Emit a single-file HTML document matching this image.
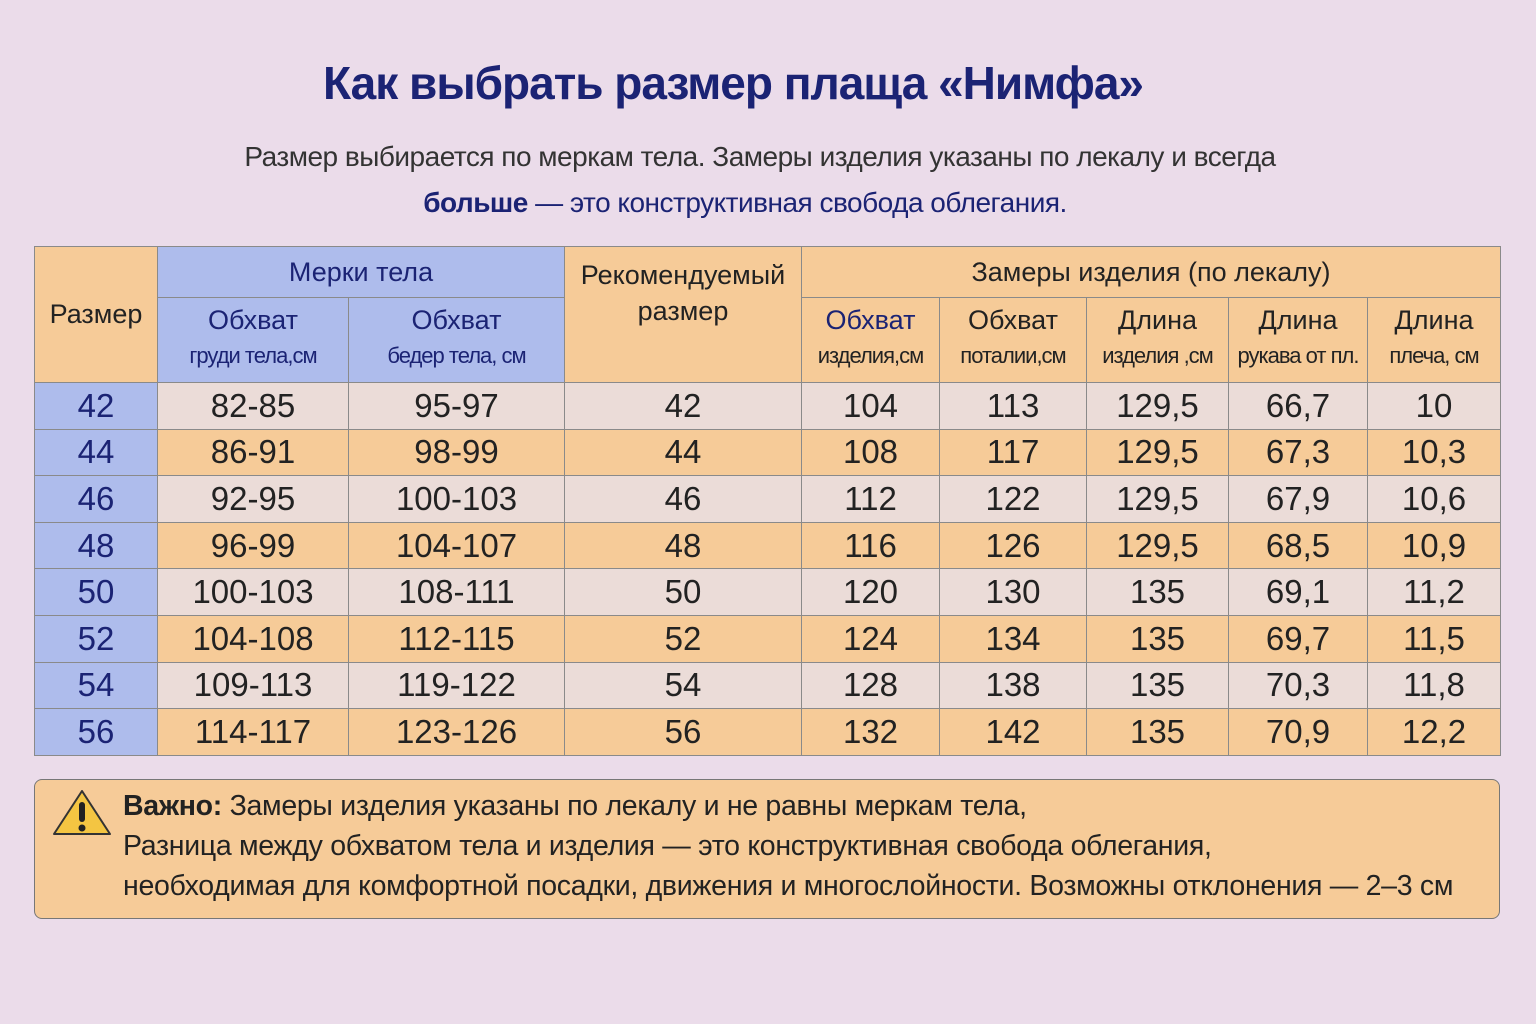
<!DOCTYPE html>
<html><head><meta charset="utf-8"><style>
body{margin:0;width:1536px;height:1024px;background:#ebdcea;font-family:"Liberation Sans","DejaVu Sans",sans-serif;position:relative;overflow:hidden}
.t{position:absolute;left:0;width:1536px;text-align:center}
h1{position:absolute;left:0;width:1466px;text-align:center;top:56px;margin:0;font-size:46px;color:#1b2374;letter-spacing:-1px;font-weight:bold}
.sub{font-size:28px;color:#333;letter-spacing:-0.5px}
table{position:absolute;left:34px;top:246px;border-collapse:collapse;table-layout:fixed;width:1466px}
td{border:1px solid #8a8a8a;text-align:center;padding:0;color:#222}
.o{background:#f6cb98}.l{background:#ebdcd8}.b{background:#aebcec;color:#1b2374}
.h{font-size:27px}.s{font-size:22px;letter-spacing:-1px;line-height:40px}
.d{height:46.6px}
.d td{font-size:33px}
.d td:first-child{color:#1b2374}
.note{position:absolute;left:34px;top:779px;width:1466px;height:140px;background:#f6cb98;border:1px solid #777;border-radius:8px;box-sizing:border-box}
.note p{margin:0;position:absolute;left:88px;font-size:28.5px;color:#222;letter-spacing:-0.3px;white-space:nowrap}
</style></head><body>
<h1>Как выбрать размер плаща «Нимфа»</h1>
<div class="t sub" style="top:141px;width:1520px">Размер выбирается по меркам тела. Замеры изделия указаны по лекалу и всегда</div>
<div class="t sub" style="top:187px;width:1490px;color:#1b2374"><b>больше</b> — это конструктивная свобода облегания.</div>
<table>
<colgroup><col style="width:123px"><col style="width:191px"><col style="width:216px"><col style="width:237px"><col style="width:138px"><col style="width:147px"><col style="width:142px"><col style="width:139px"><col style="width:133px"></colgroup>
<tr style="height:51px"><td class="o h" rowspan="2">Размер</td><td class="b h" colspan="2">Мерки тела</td><td class="o h" rowspan="2" style="vertical-align:top;padding-top:10px;line-height:36px">Рекомендуемый<br>размер</td><td class="o h" colspan="5">Замеры изделия (по лекалу)</td></tr>
<tr style="height:85px"><td class="b"><span class="h">Обхват</span><br><span class="s">груди тела,см</span></td><td class="b"><span class="h">Обхват</span><br><span class="s">бедер тела, см</span></td>
<td class="o"><span class="h" style="color:#1b2374">Обхват</span><br><span class="s">изделия,см</span></td><td class="o"><span class="h">Обхват</span><br><span class="s">поталии,см</span></td><td class="o"><span class="h">Длина</span><br><span class="s">изделия ,см</span></td><td class="o"><span class="h">Длина</span><br><span class="s">рукава от пл.</span></td><td class="o"><span class="h">Длина</span><br><span class="s">плеча, см</span></td></tr>
<tr class="d l"><td class="b">42</td><td>82-85</td><td>95-97</td><td>42</td><td>104</td><td>113</td><td>129,5</td><td>66,7</td><td>10</td></tr>
<tr class="d o"><td class="b">44</td><td>86-91</td><td>98-99</td><td>44</td><td>108</td><td>117</td><td>129,5</td><td>67,3</td><td>10,3</td></tr>
<tr class="d l"><td class="b">46</td><td>92-95</td><td>100-103</td><td>46</td><td>112</td><td>122</td><td>129,5</td><td>67,9</td><td>10,6</td></tr>
<tr class="d o"><td class="b">48</td><td>96-99</td><td>104-107</td><td>48</td><td>116</td><td>126</td><td>129,5</td><td>68,5</td><td>10,9</td></tr>
<tr class="d l"><td class="b">50</td><td>100-103</td><td>108-111</td><td>50</td><td>120</td><td>130</td><td>135</td><td>69,1</td><td>11,2</td></tr>
<tr class="d o"><td class="b">52</td><td>104-108</td><td>112-115</td><td>52</td><td>124</td><td>134</td><td>135</td><td>69,7</td><td>11,5</td></tr>
<tr class="d l"><td class="b">54</td><td>109-113</td><td>119-122</td><td>54</td><td>128</td><td>138</td><td>135</td><td>70,3</td><td>11,8</td></tr>
<tr class="d o"><td class="b">56</td><td>114-117</td><td>123-126</td><td>56</td><td>132</td><td>142</td><td>135</td><td>70,9</td><td>12,2</td></tr>
</table>
<div class="note">
<svg style="position:absolute;left:16px;top:8px" width="62" height="50" viewBox="0 0 62 50"><path d="M31 3 L59 46 L3 46 Z" fill="#f4c542" stroke="#333" stroke-width="2" stroke-linejoin="round"/><rect x="28" y="14" width="6" height="20" rx="3" fill="#222"/><circle cx="31" cy="40" r="3.5" fill="#222"/></svg>
<p style="top:10px"><b>Важно:</b> Замеры изделия указаны по лекалу и не равны меркам тела,</p>
<p style="top:50px">Разница между обхватом тела и изделия — это конструктивная свобода облегания,</p>
<p style="top:90px">необходимая для комфортной посадки, движения и многослойности. Возможны отклонения — 2–3 см</p>
</div>
</body></html>
